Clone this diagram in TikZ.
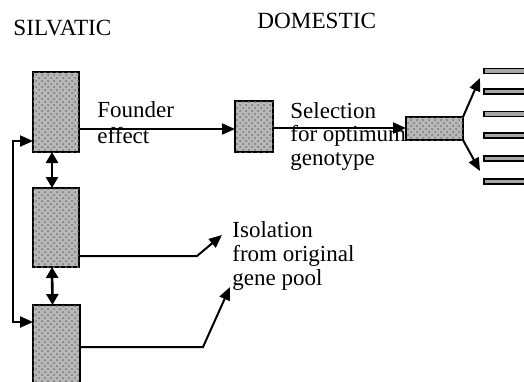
\documentclass[tikz,border=0pt]{standalone}
\usepackage{fontspec}
\setmainfont{Liberation Serif}
\usetikzlibrary{arrows.meta,patterns}
\begin{document}
\begin{tikzpicture}[x=0.5pt,y=-0.5pt,
  popbox/.style={draw=black,line width=0.8pt,fill=black!28,postaction={pattern=crosshatch dots,pattern color=black!55},inner sep=0pt,outer sep=0pt},
  barbox/.style={draw=black,line width=0.7pt,fill=black!35,inner sep=0pt,outer sep=0pt},
  arr/.style={line width=1pt,-{Triangle[length=6.5pt,width=5.5pt]}},
  darr/.style={line width=1.3pt,{Triangle[length=5.5pt,width=6pt]}-{Triangle[length=5.5pt,width=6pt]}},
  lbl/.style={anchor=base west,inner sep=0pt,font=\fontsize{11.5}{12}\selectfont},
  head/.style={anchor=base west,inner sep=0pt,font=\fontsize{11.6}{12}\selectfont}]
\useasboundingbox (0,0) rectangle (524,381);
\fill[white] (0,0) rectangle (524,381);
% headings
\node[head] (silv) at (13,35) {SILVATIC};
\node[head] (dom) at (257,28) {DOMESTIC};
% silvatic populations
\node[popbox,minimum width=23pt,minimum height=40pt] (s1) at (56,112) {};
\node[popbox,minimum width=23pt,minimum height=39.5pt] (s2) at (56,227.5) {};
\begin{scope}
\clip (0,0) rectangle (524,381);
\node[popbox,minimum width=23.5pt,minimum height=45pt] (s3) at (56.5,350) {};
\end{scope}
% domestic populations
\node[popbox,minimum width=19pt,minimum height=25.5pt] (d1) at (254,126.5) {};
\node[popbox,minimum width=28.5pt,minimum height=11.5pt] (d2) at (434.5,128.5) {};
% breeds
\begin{scope}
\clip (0,0) rectangle (524,381);
\foreach \yy/\nm in {71/b1,91.5/b2,114/b3,135.5/b4,158.5/b5,181.5/b6}{
  \node[barbox,minimum width=23pt,minimum height=2.4pt,anchor=west] (\nm) at (484,\yy) {};
}
\end{scope}
% founder effect
\draw[arr] (s1.east |- 0,129) -- (d1.west |- 0,129);
\node[lbl] (fo1) at (97,117) {Founder};
\node[lbl] (fo2) at (97,143) {effect};
% selection
\draw[arr] (d1.east |- 0,128) -- (d2.west |- 0,128);
\node[lbl] (se1) at (290,118) {Selection};
\node[lbl] (se2) at (290,141) {for optimum};
\node[lbl] (se3) at (290,165) {genotype};
% fan
\coordinate (fu) at (480,78);
\coordinate (fd) at (480,171);
\draw[arr] (d2.north east) -- (fu);
\draw[arr] (d2.south east) -- (fd);
% exchange between silvatic populations
\draw[darr] ([xshift=-2pt]s1.south) -- ([xshift=-2pt]s2.north);
\draw[darr] ([xshift=-2pt]s2.south) -- ([xshift=-2pt]s3.north);
\coordinate (l1) at (13,141);
\coordinate (l2) at (13,322);
\draw[line width=1pt,{Triangle[length=6.5pt,width=5.5pt]}-{Triangle[length=6.5pt,width=5.5pt]}] (l1 -| s1.west) -- (l1) -- (l2) -- (l2 -| s3.west);
% isolation
\coordinate (i1a) at (197,256);
\coordinate (i1b) at (222,235);
\coordinate (i2a) at (203,347);
\coordinate (i2b) at (230,287);
\draw[arr] (i1a -| s2.east) -- (i1a) -- (i1b);
\draw[arr] (i2a -| s3.east) -- (i2a) -- (i2b);
\node[lbl] (is1) at (232,237) {Isolation};
\node[lbl] (is2) at (232,261) {from original};
\node[lbl] (is3) at (232,285) {gene pool};
\end{tikzpicture}
\end{document}
